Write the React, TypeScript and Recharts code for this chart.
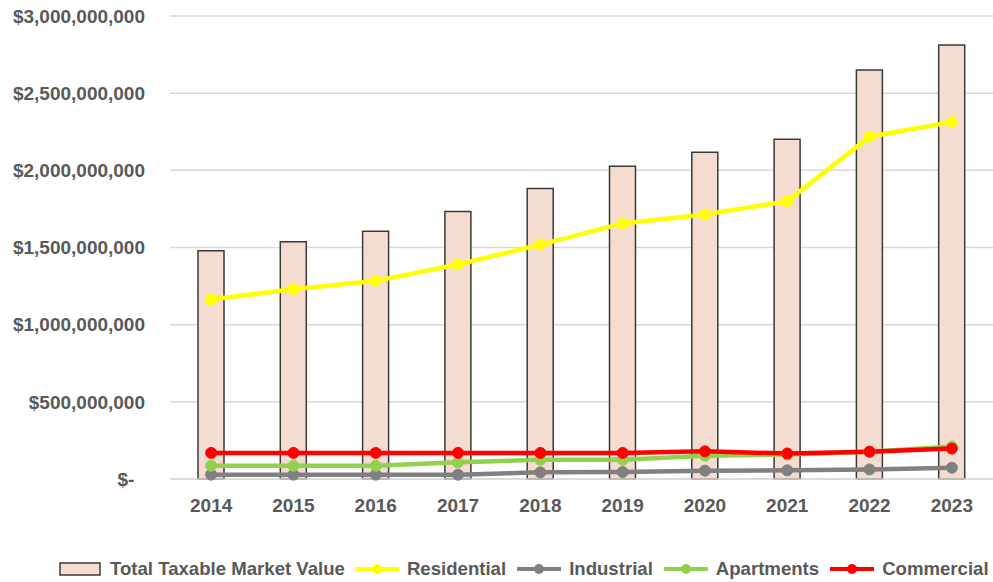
import React from 'react';
import { ComposedChart, Bar, Line, XAxis, YAxis, CartesianGrid, Legend } from 'recharts';

const years = ['2014', '2015', '2016', '2017', '2018', '2019', '2020', '2021', '2022', '2023'];
const totalTaxable = [1479e6, 1537e6, 1606e6, 1734e6, 1883e6, 2026e6, 2117e6, 2201e6, 2650e6, 2812e6];
const residential = [1163e6, 1230e6, 1284e6, 1390e6, 1519e6, 1656e6, 1714e6, 1799e6, 2218e6, 2313e6];
const industrial = [28e6, 28e6, 28e6, 28e6, 43e6, 45e6, 54e6, 56e6, 62e6, 73e6];
const apartments = [86e6, 86e6, 86e6, 108e6, 125e6, 125e6, 151e6, 158e6, 177e6, 210e6];
const commercial = [169e6, 169e6, 169e6, 169e6, 169e6, 169e6, 179e6, 165e6, 177e6, 197e6];
const yTicks = [0, 5e8, 1e9, 1.5e9, 2e9, 2.5e9, 3e9];

const data = years.map((y, i) => ({
  year: y,
  total: totalTaxable[i],
  residential: residential[i],
  industrial: industrial[i],
  apartments: apartments[i],
  commercial: commercial[i],
}));

const FONT = '"Liberation Sans", Arial, sans-serif';
const TEXT = '#595959';
const BAR_FILL = '#f5dcd0';
const BAR_STROKE = '#3a3a3a';

const series = [
  { key: 'residential', name: 'Residential', color: '#ffff00' },
  { key: 'industrial', name: 'Industrial', color: '#808080' },
  { key: 'apartments', name: 'Apartments', color: '#92d050' },
  { key: 'commercial', name: 'Commercial', color: '#ff0000' },
];

const fmtY = (v: number) => (v === 0 ? '$-\u00A0\u00A0' : '$' + v.toLocaleString('en-US'));

const LegendContent = () => (
  <div
    style={{
      height: 26,
      display: 'flex',
      alignItems: 'center',
      paddingLeft: 59,
      fontFamily: FONT,
      fontWeight: 'bold',
      fontSize: 18.6,
      color: TEXT,
      whiteSpace: 'nowrap',
    }}
  >
    <div style={{ display: 'flex', alignItems: 'center', marginRight: 10 }}>
      <svg width={42} height={14} style={{ marginRight: 9 }}>
        <rect x={1} y={1} width={40} height={12} fill={BAR_FILL} stroke={BAR_STROKE} strokeWidth={1.5} />
      </svg>
      <span>Total Taxable Market Value</span>
    </div>
    {series.map((s) => (
      <div key={s.key} style={{ display: 'flex', alignItems: 'center', marginRight: 11 }}>
        <svg width={44} height={14} style={{ marginRight: 8 }}>
          <line x1={0} y1={7} x2={44} y2={7} stroke={s.color} strokeWidth={4} />
          <circle cx={22} cy={7} r={5} fill={s.color} />
        </svg>
        <span>{s.name}</span>
      </div>
    ))}
  </div>
);

export default function App() {
  return (
    <div style={{ width: 993, height: 582, background: '#fff' }}>
      <style>{'body{margin:0;}'}</style>
      <ComposedChart
        width={993}
        height={582}
        data={data}
        margin={{ top: 16, right: 0, left: 0, bottom: 0 }}
      >
        <CartesianGrid vertical={false} stroke="#d9d9d9" strokeWidth={1.5} />
        <XAxis
          dataKey="year"
          height={77}
          tickLine={false}
          tickSize={0}
          tickMargin={20}
          axisLine={{ stroke: '#d9d9d9', strokeWidth: 1.5 }}
          tick={{ fill: TEXT, fontFamily: FONT, fontWeight: 'bold', fontSize: 19 }}
        />
        <YAxis
          width={170}
          domain={[0, 3e9]}
          ticks={yTicks}
          tickFormatter={fmtY}
          axisLine={false}
          tickLine={false}
          tickSize={0}
          tickMargin={25}
          tick={{ fill: TEXT, fontFamily: FONT, fontWeight: 'bold', fontSize: 19 }}
        />
        <Legend verticalAlign="bottom" content={<LegendContent />} wrapperStyle={{ left: 0, width: 993 }} />
        <Bar
          dataKey="total"
          name="Total Taxable Market Value"
          fill={BAR_FILL}
          stroke={BAR_STROKE}
          strokeWidth={1.5}
          barSize={26}
          isAnimationActive={false}
        />
        {series.map((s) => (
          <Line
            key={s.key}
            dataKey={s.key}
            name={s.name}
            stroke={s.color}
            strokeWidth={4.5}
            dot={{ r: 5.5, fill: s.color, stroke: s.color, strokeWidth: 1 }}
            activeDot={false}
            isAnimationActive={false}
          />
        ))}
      </ComposedChart>
    </div>
  );
}
